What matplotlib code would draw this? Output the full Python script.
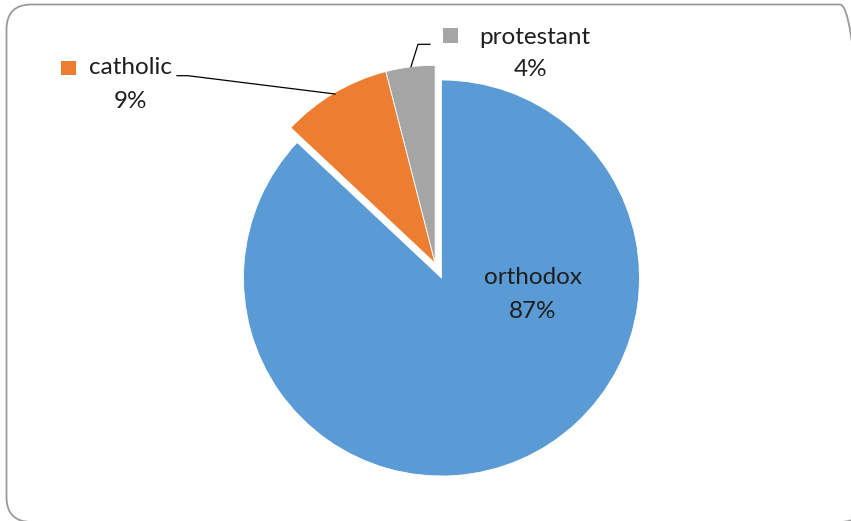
import numpy as np
import matplotlib
matplotlib.use("Agg")
import matplotlib.pyplot as plt
from matplotlib.patches import FancyBboxPatch, Rectangle

categories = ["orthodox", "catholic", "protestant"]
values = [87, 9, 4]
colors = ["#5B9BD5", "#ED7D31", "#A5A5A5"]

W, H = 851, 521
fig = plt.figure(figsize=(W / 100, H / 100), dpi=100)
ax = fig.add_axes([0, 0, 1, 1])
ax.set_xlim(0, W)
ax.set_ylim(0, H)
ax.set_aspect("equal")
ax.axis("off")

def Y(y):
    return H - y

FONT = "Lato"
FS = 17.5
TXT = "#1e1e1e"

# outer rounded border
border = FancyBboxPatch((6.5, Y(522)), 865 - 6.5, 522 - 4.5,
                        boxstyle="round,pad=0,rounding_size=25",
                        facecolor="none", edgecolor="#9a9a9a", linewidth=1.3,
                        clip_on=False)
ax.add_patch(border)

cx, cy, R = 441.5, Y(278), 198
wedges, _ = ax.pie(values, colors=colors, startangle=90, counterclock=False,
                   center=(cx, cy), radius=R,
                   wedgeprops=dict(edgecolor="white", linewidth=0.6))
ax.set_xlim(0, W)
ax.set_ylim(0, H)

# explode catholic + protestant together along their common bisector
total = sum(values)
mid = 90 - 360 * (values[0] + (values[1] + values[2]) / 2) / total
off = 16
ddx, ddy = off * np.cos(np.radians(mid)), off * np.sin(np.radians(mid))
for w in wedges[1:]:
    w.set_center((cx + ddx, cy + ddy))

# orthodox label
ax.text(533, Y(278), categories[0], ha="center", va="center", fontsize=FS, family=FONT, color=TXT)
ax.text(533, Y(312), f"{values[0]}%", ha="center", va="center", fontsize=FS, family=FONT, color=TXT)

# catholic label
ax.add_patch(Rectangle((61, Y(75)), 14.5, 14.5, facecolor=colors[1], edgecolor="none"))
ax.text(130.5, Y(68), categories[1], ha="center", va="center", fontsize=FS, family=FONT, color=TXT)
ax.text(130.5, Y(101), f"{values[1]}%", ha="center", va="center", fontsize=FS, family=FONT, color=TXT)
ax.plot([177, 188, 335], [Y(75.7), Y(75.7), Y(94)], color="black", linewidth=0.9)

# protestant label
ax.add_patch(Rectangle((443, Y(43)), 15, 15, facecolor=colors[2], edgecolor="none"))
ax.text(535, Y(37), categories[2], ha="center", va="center", fontsize=FS, family=FONT, color=TXT)
ax.text(531, Y(69), f"{values[2]}%", ha="center", va="center", fontsize=FS, family=FONT, color=TXT)
ax.plot([430, 418, 411], [Y(44.3), Y(44.3), Y(66.7)], color="black", linewidth=0.9)

fig.savefig("out.png", dpi=100)
